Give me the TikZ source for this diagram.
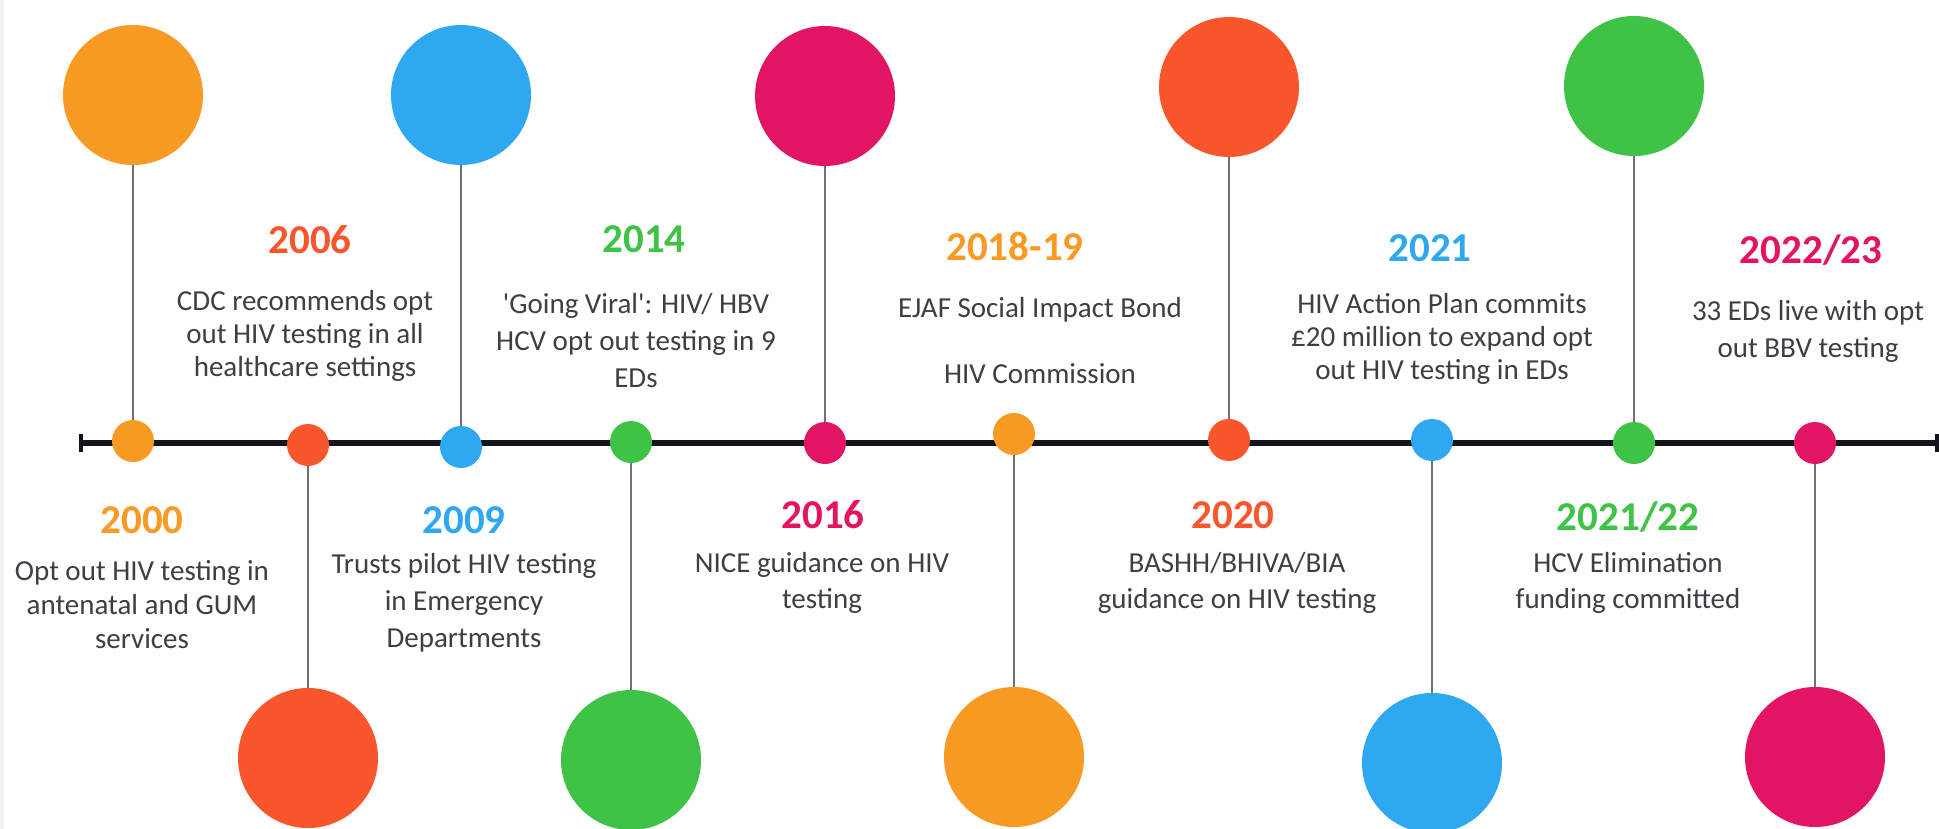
\documentclass[tikz,border=0pt]{standalone}
\usepackage{fontspec}
\setmainfont{Carlito}[Ligatures=TeXOff]
\definecolor{cOrange}{HTML}{F99A25}
\definecolor{cRed}{HTML}{FA562E}
\definecolor{cBlue}{HTML}{2FA8F2}
\definecolor{cGreen}{HTML}{3FC346}
\definecolor{cMagenta}{HTML}{E41464}
\definecolor{stemgray}{HTML}{707075}
\definecolor{bodygray}{HTML}{3E3E46}
\definecolor{axisblack}{HTML}{14141C}
\definecolor{edgegray}{HTML}{F0F3F3}
\begin{document}
\begin{tikzpicture}[x=0.5pt,y=-0.5pt,
  big/.style={circle,fill=#1,inner sep=0pt,minimum size=70pt},
  dot/.style={circle,fill=#1,inner sep=0pt,minimum size=21pt},
  stem/.style={draw=stemgray,line width=1.2pt},
  axis/.style={draw=axisblack,line width=3pt},
  endtick/.style={draw=axisblack,line width=2pt},
  year/.style={text=#1,font=\fontsize{20.5}{24}\selectfont\bfseries,anchor=base,inner sep=0pt},
  body/.style={text=bodygray,font=\fontsize{14.5}{#1}\selectfont,align=center,anchor=north,inner sep=0pt},
]
\useasboundingbox (0,0) rectangle (1939,829);
\fill[white] (0,0) rectangle (1939,829);
\fill[edgegray] (0,0) rectangle (4,829);

% time axis
\coordinate (tlL) at (81,443);
\coordinate (tlR) at (1937,443);
\draw[axis] (tlL) -- (tlR);
\draw[endtick] (tlL) ++(0,-9) -- ++(0,18);
\draw[endtick] (tlR) ++(0,-9) -- ++(0,18);

% milestone balloons (large) and markers on the axis (small)
\node[big=cOrange]  (B1)  at (133,95)   {};
\node[big=cRed]     (B2)  at (308,758)  {};
\node[big=cBlue]    (B3)  at (461,95)   {};
\node[big=cGreen]   (B4)  at (631,760)  {};
\node[big=cMagenta] (B5)  at (825,96)   {};
\node[big=cOrange]  (B6)  at (1014,757) {};
\node[big=cRed]     (B7)  at (1229,87)  {};
\node[big=cBlue]    (B8)  at (1432,763) {};
\node[big=cGreen]   (B9)  at (1634,86)  {};
\node[big=cMagenta] (B10) at (1815,757) {};

\coordinate (P1)  at (133,441);
\coordinate (P2)  at (308,445);
\coordinate (P3)  at (461,447);
\coordinate (P4)  at (631,442);
\coordinate (P5)  at (825,443);
\coordinate (P6)  at (1014,434);
\coordinate (P7)  at (1229,440);
\coordinate (P8)  at (1432,440);
\coordinate (P9)  at (1634,443);
\coordinate (P10) at (1815,443);

\foreach \i in {1,...,10} \draw[stem] (B\i) -- (P\i);

\node[dot=cOrange]  (D1)  at (P1)  {};
\node[dot=cRed]     (D2)  at (P2)  {};
\node[dot=cBlue]    (D3)  at (P3)  {};
\node[dot=cGreen]   (D4)  at (P4)  {};
\node[dot=cMagenta] (D5)  at (P5)  {};
\node[dot=cOrange]  (D6)  at (P6)  {};
\node[dot=cRed]     (D7)  at (P7)  {};
\node[dot=cBlue]    (D8)  at (P8)  {};
\node[dot=cGreen]   (D9)  at (P9)  {};
\node[dot=cMagenta] (D10) at (P10) {};

% labels above the axis
\node[year=cRed] (Y2006) at (310,253) {2006};
\node[body=16.5] (T2006) at (305,290) {CDC recommends opt\\out HIV testing in all\\healthcare settings};

\node[year=cGreen] (Y2014) at (644,252) {2014};
\node[body=18.5] (T2014) at (636,293) {'Going Viral': HIV/ HBV\\HCV opt out testing in 9\\EDs};

\node[year=cOrange] (Y2018) at (1015,260) {2018-19};
\node[body=16.5] (T2018) at (1040,297) {EJAF Social Impact Bond\\[16.5pt]HIV Commission};

\node[year=cBlue] (Y2021) at (1430,261) {2021};
\node[body=16.5] (T2021) at (1442,293) {HIV Action Plan commits\\\pounds20 million to expand opt\\out HIV testing in EDs};

\node[year=cMagenta] (Y2022) at (1811,263) {2022/23};
\node[body=18.5] (T2022) at (1808,300) {33 EDs live with opt\\out BBV testing};

% labels below the axis
\node[year=cOrange] (Y2000) at (142,533) {2000};
\node[body=17] (T2000) at (142,560) {Opt out HIV testing in\\antenatal and GUM\\services};

\node[year=cBlue] (Y2009) at (464,533) {2009};
\node[body=18.5] (T2009) at (464,553) {Trusts pilot HIV testing\\in Emergency\\Departments};

\node[year=cMagenta] (Y2016) at (823,528) {2016};
\node[body=18] (T2016) at (822,552) {NICE guidance on HIV\\testing};

\node[year=cRed] (Y2020) at (1233,528) {2020};
\node[body=18] (T2020) at (1237,552) {BASHH/BHIVA/BIA\\guidance on HIV testing};

\node[year=cGreen] (Y2122) at (1628,530) {2021/22};
\node[body=18] (T2122) at (1628,552) {HCV Elimination\\funding committed};
\end{tikzpicture}
\end{document}
